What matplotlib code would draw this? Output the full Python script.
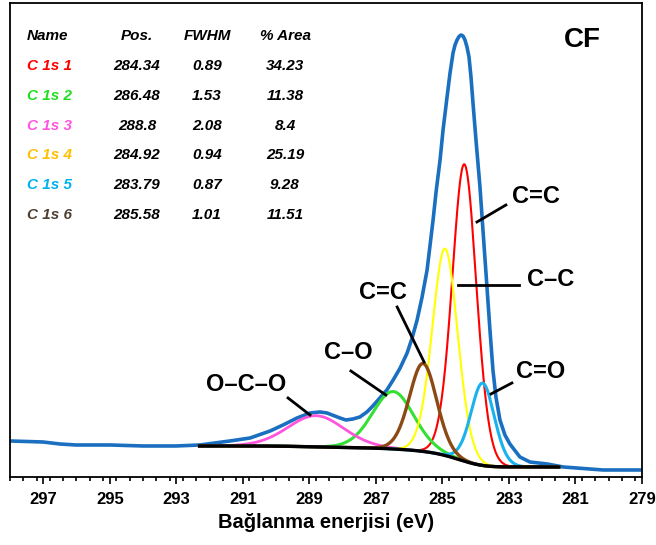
import numpy as np
import matplotlib
matplotlib.use("Agg")
import matplotlib.pyplot as plt

plt.rcParams['font.family'] = ['Liberation Sans', 'DejaVu Sans']

# fit table (C 1s components)
names = ["C 1s 1", "C 1s 2", "C 1s 3", "C 1s 4", "C 1s 5", "C 1s 6"]
pos = [284.34, 286.48, 288.8, 284.92, 283.79, 285.58]
fwhm = [0.89, 1.53, 2.08, 0.94, 0.87, 1.01]
area = [34.23, 11.38, 8.4, 25.19, 9.28, 11.51]
name_colors = ["#ff0000", "#22dd22", "#ff55e0", "#ffc000", "#00b0f0", "#4d4033"]
line_colors = ["#ff0000", "#33e033", "#ff55dd", "#ffff00", "#1ab2ee", "#8b4a14"]
line_widths = [1.5, 2.2, 2.0, 1.5, 2.2, 2.4]

# intensity scale (a.u.)
height_per_area = 7.72
bg_high = 31.0   # Shirley background, high BE side
bg_low = 10.0    # low BE side
fit_range = (281.5, 292.3)
gl_mix = 0.3

spec_ev = [298.00, 297.01, 296.50, 296.02, 294.99, 294.00, 293.01, 292.29, 291.39, 290.78,
           290.18, 289.79, 289.37, 288.98, 288.68, 288.47, 288.08, 287.90, 287.69, 287.48,
           287.27, 287.09, 286.88, 286.67, 286.48, 286.27, 286.06, 285.91, 285.76, 285.61,
           285.46, 285.37, 285.28, 285.19, 285.07, 284.98, 284.86, 284.77, 284.68, 284.62,
           284.56, 284.50, 284.44, 284.38, 284.32, 284.26, 284.20, 284.14, 284.08, 283.99,
           283.87, 283.78, 283.66, 283.57, 283.48, 283.39, 283.27, 283.12, 282.97, 282.67,
           282.37, 281.85, 281.37, 280.17, 279.00]
spec_y = [36, 35, 33, 32, 32, 31, 31, 32, 36, 39,
          46, 52, 59, 64, 65, 64, 59, 57, 58, 60,
          65, 71, 79, 87, 97, 109, 124, 139, 157, 180,
          207, 232, 257, 285, 317, 347, 380, 404, 424, 432,
          437, 440.5, 442, 441, 437, 430, 420, 400, 374, 337,
          290, 247, 190, 147, 107, 80, 57, 42, 33, 20,
          15, 13, 10, 7, 7]

# annotations: text, text pos, line start, line end (data coords)
annots = [
    ("C=C", (282.19, 280), (283.09, 272), (283.96, 255)),
    ("C\u2013C", (281.76, 197), (282.70, 192), (284.53, 192)),
    ("C=C", (286.79, 184), (286.36, 170), (285.55, 115)),
    ("C\u2013O", (287.84, 124), (287.75, 106), (286.70, 82)),
    ("O\u2013C\u2013O", (290.90, 92), (289.64, 79), (288.98, 62)),
    ("C=O", (282.06, 105), (282.91, 94), (283.54, 83)),
]


def gl(x, e0, f, m):
    d = (x - e0) / f
    return np.exp(-4 * np.log(2) * (1 - m) * d ** 2) / (1 + 4 * m * d ** 2)


e = np.linspace(fit_range[0], fit_range[1], 1200)
comps = []
for p, f, a in zip(pos, fwhm, area):
    comps.append(height_per_area * a / f * gl(e, p, f, gl_mix))
total = np.sum(comps, axis=0)
cum = np.concatenate([[0], np.cumsum((total[1:] + total[:-1]) / 2 * np.diff(e))])
bg = bg_low + (bg_high - bg_low) * cum / cum[-1]

fig = plt.figure(figsize=(6.56, 5.45), dpi=100)
ax = fig.add_axes([0.0152, 0.1248, 0.9634, 0.8697])

ax.plot(spec_ev, spec_y, color="#1a6fc0", lw=2.6, zorder=2, solid_joinstyle='round')
for c, col, lw in zip(comps, line_colors, line_widths):
    ax.plot(e, bg + c, color=col, lw=lw, zorder=3)
ax.plot(e, bg, color="black", lw=2.4, zorder=4)

ax.set_xlim(298, 279)
ax.set_ylim(0, 474)
ax.set_xticks(np.arange(297, 278, -2))
ax.set_xticks(np.arange(298, 278.9, -0.4), minor=True)
ax.set_yticks([])
ax.tick_params(axis='x', which='major', length=5, width=1.2, direction='out', pad=6)
ax.tick_params(axis='x', which='minor', length=3, width=1.2, direction='out')
ax.set_xticklabels([str(v) for v in range(297, 278, -2)], fontsize=12, fontweight='bold')
for s in ax.spines.values():
    s.set_linewidth(1.3)
ax.set_xlabel("Bağlanma enerjisi (eV)", fontsize=14.5, fontweight='bold', labelpad=4)

# table
tf = dict(fontsize=11, fontweight='bold', fontstyle='italic', transform=fig.transFigure, va='center')
W, H = 656, 545
def fx(px):
    return px / W
def fy(py):
    return 1 - py / H
ax.text(fx(27), fy(36), "Name", ha='left', **tf)
ax.text(fx(137), fy(36), "Pos.", ha='center', **tf)
ax.text(fx(207), fy(36), "FWHM", ha='center', **tf)
ax.text(fx(285), fy(36), "% Area", ha='center', **tf)
for i in range(len(names)):
    y = fy(66 + 29.8 * i)
    ax.text(fx(27), y, names[i], ha='left', color=name_colors[i], **tf)
    ax.text(fx(137), y, f"{pos[i]:g}", ha='center', **tf)
    ax.text(fx(207), y, f"{fwhm[i]:.2f}", ha='center', **tf)
    ax.text(fx(285), y, f"{area[i]:g}", ha='center', **tf)

ax.text(280.8, 437, "CF", fontsize=20, fontweight='bold', ha='center', va='center')

for txt, tp, p0, p1 in annots:
    ax.text(tp[0], tp[1], txt, fontsize=17, fontweight='bold', ha='center', va='center')
    ax.plot([p0[0], p1[0]], [p0[1], p1[1]], color='black', lw=2, zorder=5)

fig.savefig("out.png", dpi=100)
